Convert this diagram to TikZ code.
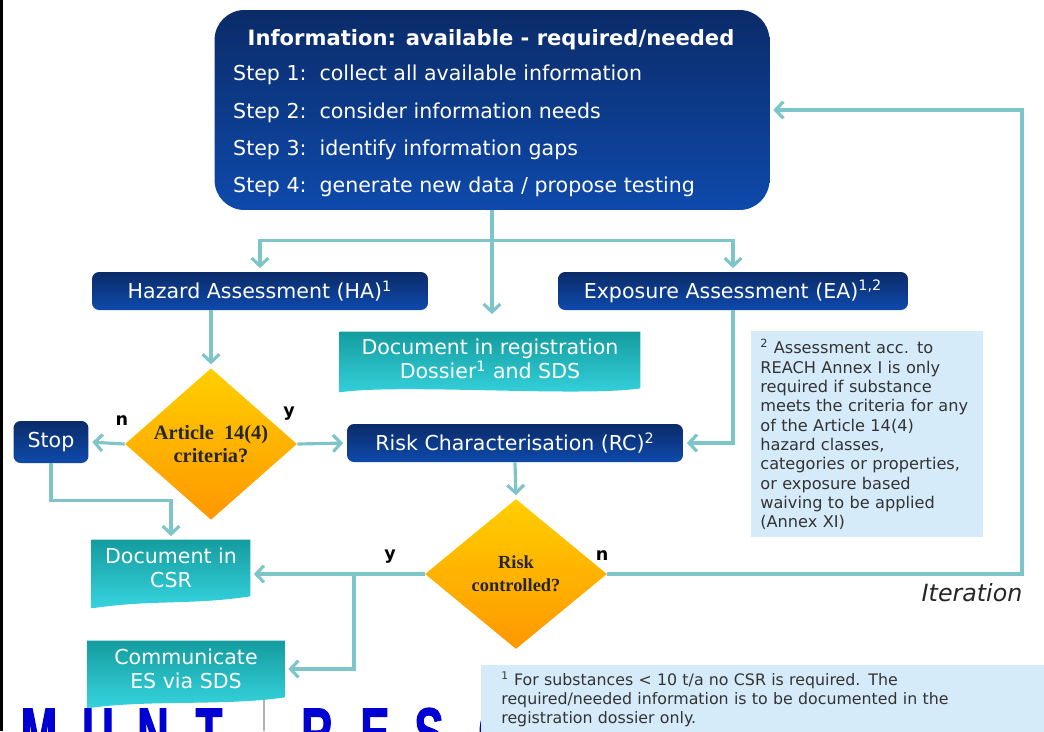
\documentclass[tikz,border=0pt]{standalone}
\usepackage{fontspec}
\setmainfont{DejaVu Sans}
\newfontfamily\askfont{Liberation Serif}
\newfontfamily\markfont[FakeStretch=0.62,FakeBold=1.5]{Liberation Sans}
\usetikzlibrary{shapes.geometric,arrows.meta,backgrounds,calc}

\definecolor{navytop}{HTML}{0B2B68}
\definecolor{navybot}{HTML}{0E4AAC}
\definecolor{tealtop}{HTML}{149C9F}
\definecolor{tealbot}{HTML}{36D4DF}
\definecolor{ambertop}{HTML}{FFCF00}
\definecolor{amberbot}{HTML}{FF9700}
\definecolor{flowline}{HTML}{7EC5CA}
\definecolor{notefill}{HTML}{D5EBFA}
\definecolor{markblue}{HTML}{0000D2}

\tikzset{
  bluebox/.style={rectangle, rounded corners=4pt, top color=navytop, bottom color=navybot,
    text=white, font=\fontsize{11.7}{14}\selectfont, minimum height=0.76cm, inner sep=0pt},
  docbox/.style={text=white, font=\fontsize{11.7}{14}\selectfont, align=center, inner sep=0pt},
  askbox/.style={diamond, top color=ambertop, bottom color=amberbot, text=black!85,
    font=\askfont\bfseries\fontsize{11.6}{13}\selectfont, align=center, inner sep=0pt},
  steptext/.style={text=white, font=\fontsize{11.7}{14}\selectfont, anchor=west},
  notebox/.style={fill=notefill, text=black!80, align=left, anchor=north west},
  answer/.style={font=\bfseries\fontsize{10}{12}\selectfont, text=black},
  markletter/.style={text=markblue, font=\markfont\bfseries\fontsize{40}{40}\selectfont,
    anchor=base, inner sep=0pt},
  link/.style={draw=flowline, line width=1.8pt},
  flow/.style={link, -{Straight Barb[length=4.5pt,width=9.5pt]}, shorten >=2pt}
}

% teal document shape with a wavy lower edge: node, drop left, drop right
\newcommand{\docshape}[3]{%
  \shade[top color=tealtop, bottom color=tealbot]
    (#1.north west) -- (#1.north east) -- ([shift={(0,#3)}]#1.south east)
    .. controls ([shift={(-60,{#3+9})}]#1.south east) and ([shift={(60,{#2-9})}]#1.south west)
    .. ([shift={(0,#2)}]#1.south west) -- cycle;}

\begin{document}
\begin{tikzpicture}[x=0.02cm, y=-0.02cm]

    % Page size of the reference
    \useasboundingbox (0,0) rectangle (1044,731);

    % Black border at the left edge
    \draw[line width=1.7pt] (1.5,0) -- (1.5,731);

    % Big block at the top
    \node[rectangle, rounded corners=17pt, top color=navytop, bottom color=navybot,
          minimum width=11.1cm, minimum height=4cm] (info) at (492,110) {};
    \node[text=white, font=\bfseries\fontsize{12}{14}\selectfont] (infotitle) at (491,40)
        {Information: available - required/needed};
    \node[steptext] (step1) at (227,75) {Step 1:\ \ collect all available information};
    \node[steptext] (step2) at (227,113) {Step 2:\ \ consider information needs};
    \node[steptext] (step3) at (227,150) {Step 3:\ \ identify information gaps};
    \node[steptext] (step4) at (227,187) {Step 4:\ \ generate new data / propose testing};

    % Assessment boxes
    \node[bluebox, minimum width=6.72cm] (ha) at (260,291) {Hazard Assessment (HA)\textsuperscript{1}};
    \node[bluebox, minimum width=7cm] (ea) at (733,291) {Exposure Assessment (EA)\textsuperscript{1,2}};
    \node[bluebox, minimum width=6.72cm] (rc) at (515,443) {Risk Characterisation (RC)\textsuperscript{2}};
    \node[bluebox, minimum width=1.5cm, minimum height=0.84cm] (stop) at (51,442) {Stop};

    % Document boxes
    \node[docbox, minimum width=6cm, minimum height=1.08cm] (reg) at (490,359)
        {Document in registration\\Dossier\textsuperscript{1} and SDS};
    \node[docbox, minimum width=3.16cm, minimum height=1.12cm] (csr) at (171,568)
        {Document in\\CSR};
    \node[docbox, minimum width=3.94cm, minimum height=1.12cm] (comm) at (186,669)
        {Communicate\\ES via SDS};
    \begin{scope}[on background layer]
        \docshape{reg}{6}{2}
        \docshape{csr}{12}{0}
        \docshape{comm}{11}{0}
    \end{scope}

    % Decisions
    \node[askbox, minimum width=3.44cm, minimum height=2.24cm] (d1) at (211,444)
        {Article\ \ 14(4)\\criteria?};
    \node[askbox, minimum width=3.64cm, minimum height=3cm,
          font=\askfont\bfseries\fontsize{10.5}{13}\selectfont] (d2) at (516,574)
        {Risk\\controlled?};

    % Footnote box on the right
    \node[notebox, minimum width=4.64cm, minimum height=4.12cm, text width=4.28cm,
          inner xsep=0.18cm, font=\fontsize{9.2}{11}\selectfont] (note2) at (751,331)
        {\textsuperscript{2} Assessment acc. to\\REACH Annex I is only\\required if substance\\
         meets the criteria for any\\of the Article 14(4)\\hazard classes,\\
         categories or properties,\\or exposure based\\waiving to be applied\\(Annex XI)};

    % Connectors from the top block
    \draw[link] (info.south) -- ++(0,30) coordinate (split);
    \draw[flow] (split) -| (ha.north);
    \draw[flow] (split) -| (ea.north);
    \draw[flow, shorten >=10pt] (split) -- (split |- reg.north);

    % Hazard branch
    \draw[flow] (ha.south -| d1.north) -- (d1.north);
    \draw[flow] (d1.west) -- (stop.east);
    \draw[flow] (d1.east) -- (rc.west);
    \draw[flow] (ea.south) |- (rc.east);
    \draw[flow] (rc.south) -- (d2.north);
    \draw[flow] (stop.south) -- ++(0,37) -| (csr.north);

    % Outcome of the risk check
    \coordinate (branch) at (354,0 |- d2.west);
    \coordinate (iter) at (1022,0 |- d2.east);
    \draw[flow] (d2.west) -- (d2.west -| csr.east);
    \draw[flow] (branch) |- (comm.east);
    \draw[flow] (d2.east) -- (iter) |- (info.east);

    % Answer labels
    \node[answer] (d1no) at (122,421) {n};
    \node[answer] (d1yes) at (289,414) {y};
    \node[answer] (d2yes) at (390,557) {y};
    \node[answer] (d2no) at (602,556) {n};
    \node[font=\itshape\fontsize{13.5}{16}\selectfont, text=black!85] (iterlabel) at (972,593) {Iteration};

    % Blue lettering cut by the lower edge
    \begin{scope}
        \clip (0,0) rectangle (1044,731);
        \node[markletter] (markM) at (39,757) {M};
        \node[markletter] (markU) at (98,757) {U};
        \node[markletter] (markN) at (153,757) {N};
        \node[markletter] (markT) at (209,757) {T};
        \draw[gray!60, line width=1.7pt] (264,700) -- (264,731);
        \node[markletter] (markR) at (317,757) {R};
        \node[markletter] (markE) at (375,757) {E};
        \node[markletter] (markS) at (429,757) {S};
        \node[markletter] (markC) at (494,757) {C};

        % Footnote box at the bottom
        \node[notebox, minimum width=11.4cm, text width=10.6cm, inner xsep=0.32cm, inner ysep=0.12cm,
              font=\fontsize{9}{10.8}\selectfont] (note1) at (481,665)
            {\textsuperscript{1} For substances < 10 t/a no CSR is required. The\\
             required/needed information is to be documented in the\\
             registration dossier only.};
    \end{scope}

\end{tikzpicture}
\end{document}
